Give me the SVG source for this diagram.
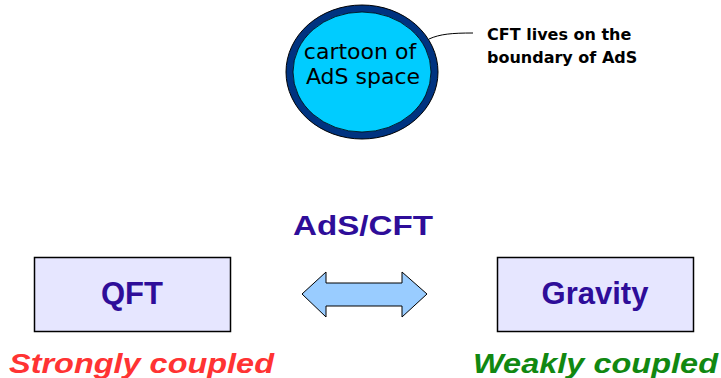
<svg xmlns="http://www.w3.org/2000/svg" width="721" height="378" viewBox="0 0 721 378">
<style>
.box{fill:#e6e6ff;stroke:#000;stroke-width:1.5}
.lbl{font-family:"Liberation Sans",Arial,sans-serif;font-weight:bold;fill:#2e0d99;text-anchor:middle}
.cap{font-family:"Liberation Sans",Arial,sans-serif;font-weight:bold;font-style:italic}
</style>
<rect width="721" height="378" fill="#fff"/>
<g id="ads">
<ellipse cx="362" cy="72" rx="76" ry="67" fill="#003380" stroke="#000" stroke-width="1"/>
<ellipse cx="362" cy="72" rx="69" ry="60" fill="#00ccff" stroke="#000" stroke-width="0.8"/>
<text font-family="DejaVu Sans,sans-serif" font-size="22" fill="#000" text-anchor="middle"><tspan x="360" y="59">cartoon of</tspan><tspan x="363" y="84">AdS space</tspan></text>
</g>
<g id="note">
<text font-family="DejaVu Sans,sans-serif" font-size="16" font-weight="bold" fill="#000"><tspan x="487" y="40">CFT lives on the</tspan><tspan x="487" y="63">boundary of AdS</tspan></text>
</g>
<g id="connectors">
<path d="M429,39 C440,34 452,33 473,33" fill="none" stroke="#000" stroke-width="1"/>
<polygon points="302,294 326,272 326,283 402,283 402,272 427,294 402,317 402,306 326,306 326,317" fill="#99ccff" stroke="#000" stroke-width="1"/>
</g>
<g id="adscft">
<text class="lbl" x="363" y="235" font-size="27" textLength="140" lengthAdjust="spacingAndGlyphs">AdS/CFT</text>
</g>
<g id="qft">
<rect class="box" x="34.5" y="257.5" width="196" height="74"/>
<text class="lbl" x="132" y="304" font-size="31">QFT</text>
</g>
<g id="gravity">
<rect class="box" x="497.5" y="257.5" width="196" height="74"/>
<text class="lbl" x="595" y="304" font-size="31">Gravity</text>
</g>
<g id="captions">
<text class="cap" x="9" y="373" font-size="28" fill="#ff3333" textLength="265" lengthAdjust="spacingAndGlyphs">Strongly coupled</text>
<text class="cap" x="473" y="373" font-size="28" fill="#118811" textLength="245" lengthAdjust="spacingAndGlyphs">Weakly coupled</text>
</g>
</svg>
